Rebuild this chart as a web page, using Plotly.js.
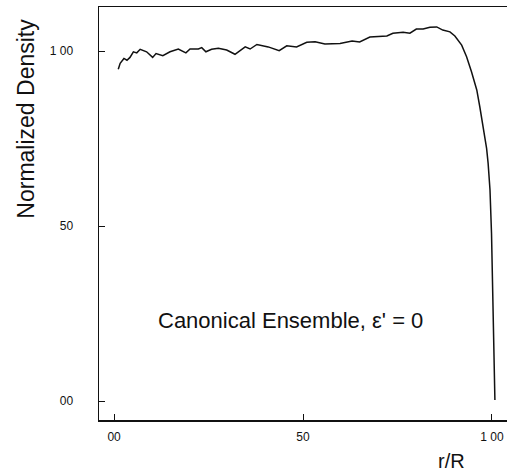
<!DOCTYPE html>
<html>
<head>
<meta charset="utf-8">
<script src="https://cdn.plot.ly/plotly-3.0.1.min.js"></script>
<style>html,body{margin:0;padding:0;background:#fff;}#chart{width:507px;height:473px;}</style>
</head>
<body>
<div id="chart"></div>
<script>
// r/R values
const rValues = [0.011,0.016,0.026,0.034,0.042,0.051,0.060,0.069,0.086,0.102,0.111,0.129,0.148,0.170,0.190,0.201,0.223,0.232,0.243,0.258,0.276,0.298,0.320,0.347,0.360,0.378,0.408,0.437,0.457,0.483,0.510,0.532,0.558,0.598,0.630,0.650,0.677,0.704,0.722,0.738,0.765,0.783,0.800,0.818,0.836,0.854,0.870,0.889,0.902,0.920,0.933,0.946,0.960,0.968,0.977,0.986,0.990,0.995,0.999,1.001,1.003,1.006,1.008];
// normalized density values
const densityValues = [0.948,0.965,0.979,0.974,0.982,0.998,0.995,1.005,0.998,0.982,0.993,0.987,0.998,1.006,0.995,1.006,1.006,1.010,0.998,1.005,1.008,1.003,0.991,1.012,1.006,1.019,1.012,1.001,1.015,1.012,1.025,1.027,1.020,1.022,1.029,1.026,1.040,1.043,1.043,1.051,1.054,1.051,1.063,1.063,1.068,1.069,1.060,1.055,1.043,1.017,0.984,0.941,0.889,0.841,0.784,0.722,0.680,0.603,0.480,0.354,0.231,0.089,0.003];
const xTickVals = [0, 0.5, 1];
const xTickText = ["00", "50", "1 00"];
const yTickVals = [0, 0.5, 1];
const yTickText = ["00", "50", "1 00"];

const FONT = "Liberation Sans, Arial, Helvetica, sans-serif";

const trace = {
  x: rValues, y: densityValues, type: "scatter", mode: "lines",
  line: {color: "#111", width: 1.5, shape: "linear"},
  hoverinfo: "skip", showlegend: false
};

const layout = {
  width: 507, height: 473,
  margin: {l: 99, r: 0, t: 7, b: 53},
  paper_bgcolor: "#fff", plot_bgcolor: "#fff",
  font: {family: FONT, color: "#111"},
  xaxis: {
    range: [-0.04, 1.04], showgrid: false, zeroline: false,
    showline: true, linecolor: "#111", linewidth: 1.5, mirror: true,
    ticks: "inside", ticklen: 6, tickwidth: 1, tickcolor: "#111",
    tickvals: xTickVals, ticktext: xTickText,
    tickfont: {size: 12, family: FONT, color: "#111"},
    ticklabelstandoff: 5
  },
  yaxis: {
    range: [-0.054, 1.126], showgrid: false, zeroline: false,
    showline: true, linecolor: "#111", linewidth: 1.5,
    ticks: "inside", ticklen: 6, tickwidth: 1, tickcolor: "#111",
    tickvals: yTickVals, ticktext: yTickText,
    tickfont: {size: 12, family: FONT, color: "#111"},
    ticklabelstandoff: 22
  },
  annotations: [
    {text: "Normalized Density", xref: "paper", yref: "paper", x: -0.181, y: 0.73,
     xanchor: "center", yanchor: "middle", textangle: -90, showarrow: false,
     font: {size: 23, family: FONT, color: "#111"}},
    {text: "r/R", xref: "paper", yref: "paper", x: 0.863, y: -0.100,
     xanchor: "center", yanchor: "middle", showarrow: false,
     font: {size: 20, family: FONT, color: "#111"}},
    {text: "Canonical Ensemble, ε' = 0", xref: "paper", yref: "paper", x: 0.799, y: 0.240,
     xanchor: "right", yanchor: "middle", showarrow: false,
     font: {size: 22, family: FONT, color: "#111"}}
  ]
};

Plotly.newPlot("chart", [trace], layout, {displayModeBar: false, staticPlot: true});
</script>
</body>
</html>
